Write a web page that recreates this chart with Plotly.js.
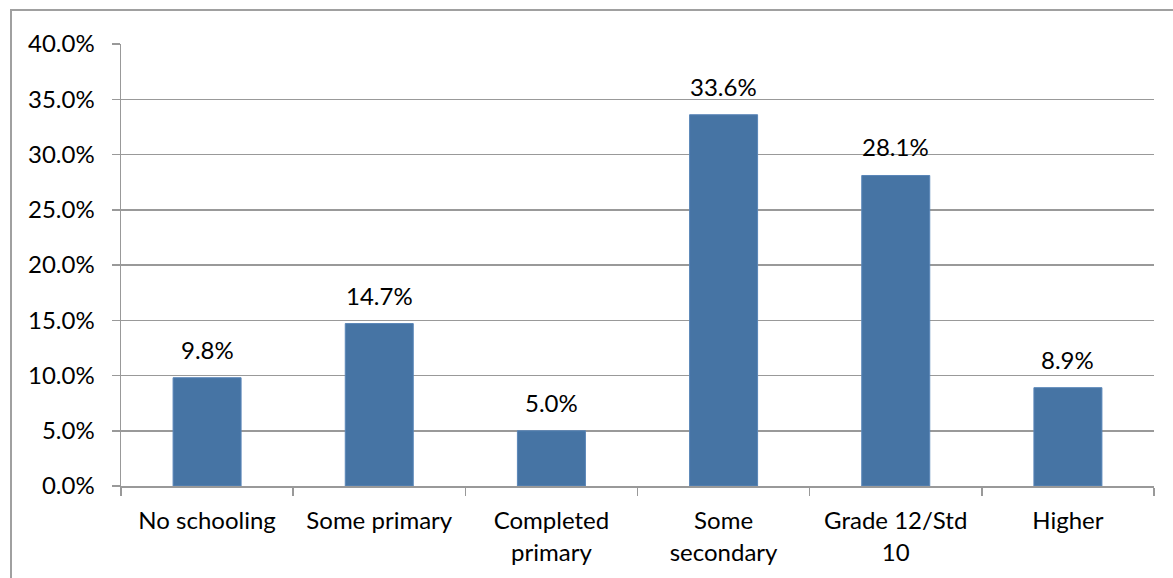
<!DOCTYPE html>
<html>
<head>
<meta charset="utf-8">
<script src="https://cdn.plot.ly/plotly-3.0.1.min.js"></script>
<style>
  html, body { margin: 0; padding: 0; background: #fff; overflow: hidden; }
  #frame { position: absolute; left: 10px; top: 9px; width: 1200px; height: 600px;
           border-left: 2px solid #a0a0a0; border-top: 2px solid #a0a0a0; }
  #chart { position: absolute; left: 0; top: 0; width: 1173px; height: 578px; }
</style>
</head>
<body>
<div id="frame"></div>
<div id="chart"></div>
<script>
// Education level categories (line breaks as shown on the axis)
const categories = ['No schooling', 'Some primary', 'Completed<br>primary', 'Some<br>secondary', 'Grade 12/Std<br>10', 'Higher'];
// Share of respondents, in percent
const shares = [9.8, 14.7, 5.0, 33.6, 28.1, 8.9];
// Y-axis ticks
const yTicks = [0, 5, 10, 15, 20, 25, 30, 35, 40];
const yTickText = yTicks.map(v => v.toFixed(1) + '%');

const FONT = { family: 'Lato, "Open Sans", sans-serif', size: 24, color: '#000' };
const GRID = '#999999';

const trace = {
  type: 'bar',
  x: categories,
  y: shares,
  marker: { color: '#4674A4', line: { color: '#5a86b8', width: 1 } },
  hoverinfo: 'skip'
};

const labels = categories.map((c, i) => ({
  x: c, y: shares[i], xref: 'x', yref: 'y',
  text: shares[i].toFixed(1) + '%',
  showarrow: false, yanchor: 'bottom', yshift: 12,
  font: FONT
}));

const layout = {
  width: 1173, height: 578,
  margin: { l: 121, r: 19, t: 44, b: 92 },
  paper_bgcolor: 'rgba(0,0,0,0)', plot_bgcolor: 'rgba(0,0,0,0)',
  font: FONT,
  showlegend: false,
  bargap: 0.605,
  xaxis: {
    type: 'category',
    showgrid: false,
    showline: true, linecolor: GRID, linewidth: 1.5,
    ticks: 'outside', tickson: 'boundaries', ticklen: 8, tickcolor: GRID, tickwidth: 1.5,
    ticklabelstandoff: 13,
    tickfont: FONT,
    fixedrange: true
  },
  yaxis: {
    range: [0, 40],
    tickvals: yTicks, ticktext: yTickText,
    showgrid: true, gridcolor: GRID, gridwidth: 1.5,
    zeroline: false,
    showline: true, linecolor: GRID, linewidth: 1.5,
    ticks: 'outside', ticklen: 8, tickcolor: GRID, tickwidth: 1.5,
    ticklabelstandoff: 12,
    tickfont: FONT,
    fixedrange: true
  },
  annotations: labels
};

Plotly.newPlot('chart', [trace], layout, { staticPlot: true, displayModeBar: false });
</script>
</body>
</html>
